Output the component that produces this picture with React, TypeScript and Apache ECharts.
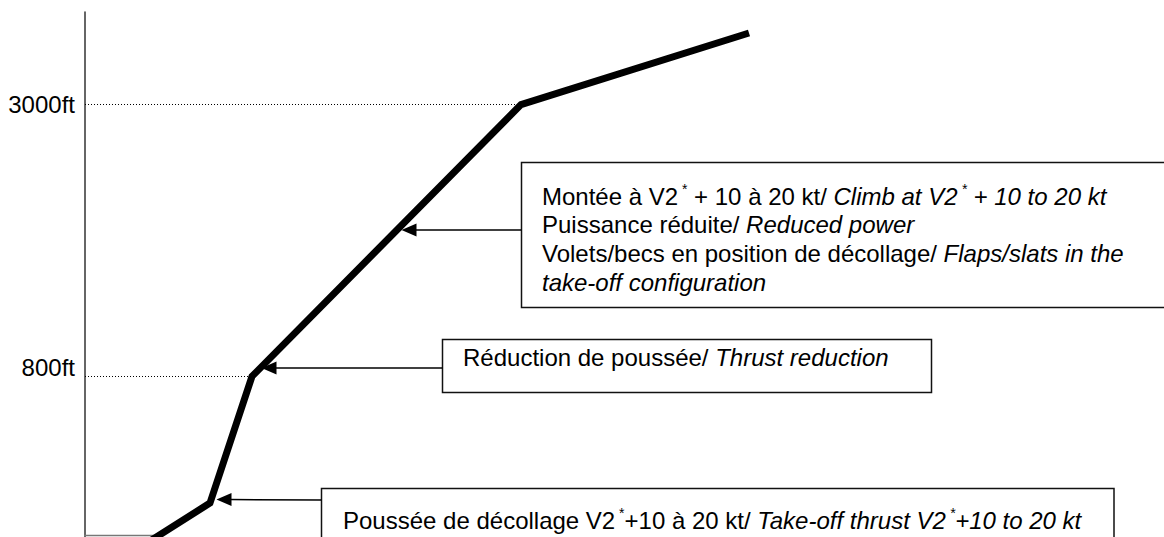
import React, { useEffect, useRef } from "react";
import * as echarts from "echarts";

// Flight path (schematic distance units, altitude in ft)
const pathX = [46, 125, 167, 436, 664];
const pathY = [-630, -225, 800, 3000, 3580];

// Altitude ticks shown on the vertical axis
const tickValues = [800, 3000];
const tickLabels = ["800ft", "3000ft"];

// Reference (dotted) lines: altitude and the distance where they meet the path
const refAlt = [3000, 800];
const refX = [431, 164];

const FONT = "'Liberation Sans', Arial, Helvetica, sans-serif";
const FS = 24;

const annotationTop =
  "{n|Montée à V2}{s| *}{n| + 10 à 20 kt/ }{i|Climb at V2}{si| *}{i| + 10 to 20 kt}\n" +
  "{n|Puissance réduite/ }{i|Reduced power}\n" +
  "{n|Volets/becs en position de décollage/ }{i|Flaps/slats in the}\n" +
  "{i|take-off configuration}";
const annotationMid = "{n|Réduction de poussée/ }{i|Thrust reduction}";
const annotationLow =
  "{n|Poussée de décollage V2}{s| *}{n|+10 à 20 kt/ }{i|Take-off thrust V2}{si| *}{i|+10 to 20 kt}";

const rich = {
  n: { fontSize: FS, fontFamily: FONT, fill: "#000" },
  i: { fontSize: FS, fontFamily: FONT, fontStyle: "italic", fill: "#000" },
  s: { fontSize: 14, fontFamily: FONT, fill: "#000", verticalAlign: "top", lineHeight: 8 },
  si: {
    fontSize: 14,
    fontFamily: FONT,
    fontStyle: "italic",
    fill: "#000",
    verticalAlign: "top",
    lineHeight: 8,
  },
};

function arrow(x1: number, y1: number, tipX: number, tipY: number) {
  const headLen = 15;
  const half = 6.5;
  return [
    {
      type: "line",
      shape: { x1, y1, x2: tipX + headLen - 2, y2: tipY },
      style: { stroke: "#000", lineWidth: 1.5 },
      z: 10,
    },
    {
      type: "polygon",
      shape: {
        points: [
          [tipX, tipY],
          [tipX + headLen, tipY - half],
          [tipX + headLen, tipY + half],
        ],
      },
      style: { fill: "#000" },
      z: 10,
    },
  ];
}

export default function App() {
  const ref = useRef<HTMLDivElement>(null);
  useEffect(() => {
    document.body.style.margin = "0";
    const chart = echarts.init(ref.current!, undefined, { renderer: "svg" });
    const data = pathX.map((x, i) => [x, pathY[i]]);
    chart.setOption({
      animation: false,
      backgroundColor: "#fff",
      grid: { left: 85, right: 0, top: 12, bottom: 0 },
      xAxis: {
        type: "value",
        min: 0,
        max: 1079,
        show: false,
      },
      yAxis: {
        type: "value",
        min: -500,
        max: 3750,
        axisLine: { show: true, lineStyle: { color: "#333", width: 1.5 } },
        axisTick: { show: false },
        splitLine: { show: false },
        axisLabel: {
          customValues: tickValues,
          margin: 10,
          color: "#000",
          fontSize: FS,
          fontFamily: FONT,
          formatter: (v: number) => {
            const idx = tickValues.indexOf(v);
            const lbl = idx >= 0 ? tickLabels[idx] : "";
            return v === 800 ? "{up|" + lbl + "}" : lbl;
          },
          rich: {
            up: { fontSize: FS, fontFamily: FONT, color: "#000", padding: [0, 0, 18, 0] },
          },
        },
      },
      series: [
        {
          type: "line",
          data,
          symbol: "none",
          clip: true,
          lineStyle: { color: "#000", width: 7, join: "miter", cap: "butt" },
          markLine: {
            silent: true,
            symbol: "none",
            label: { show: false },
            lineStyle: { color: "#000", width: 1.2, type: [1, 2] },
            data: refAlt.map((a, i) => [
              { coord: [0, a] },
              { coord: [refX[i], a] },
            ]),
          },
          z: 5,
        },
      ],
      graphic: [
        {
          type: "line",
          shape: { x1: 84, y1: 535.5, x2: 160, y2: 535.5 },
          style: { stroke: "#777", lineWidth: 1.5 },
          z: 1,
        },
        {
          type: "rect",
          shape: { x: 521.5, y: 162.5, width: 700, height: 145 },
          style: { stroke: "#111", lineWidth: 1.5, fill: "#fff" },
          z: 8,
        },
        {
          type: "rect",
          shape: { x: 442.5, y: 339.5, width: 489, height: 53 },
          style: { stroke: "#111", lineWidth: 1.5, fill: "#fff" },
          z: 8,
        },
        {
          type: "rect",
          shape: { x: 321.5, y: 488.5, width: 792.5, height: 100 },
          style: { stroke: "#111", lineWidth: 1.5, fill: "#fff" },
          z: 8,
        },
        {
          type: "text",
          x: 542,
          y: 182,
          z: 9,
          style: {
            text: annotationTop,
            rich,
            lineHeight: 28.6,
            verticalAlign: "top",
            align: "left",
            font: FS + "px " + FONT,
            fill: "#000",
          },
        },
        {
          type: "text",
          x: 463,
          y: 343,
          z: 9,
          style: {
            text: annotationMid,
            rich,
            lineHeight: 28.6,
            verticalAlign: "top",
            align: "left",
            font: FS + "px " + FONT,
            fill: "#000",
          },
        },
        {
          type: "text",
          x: 343,
          y: 506,
          z: 9,
          style: {
            text: annotationLow,
            rich,
            lineHeight: 28.6,
            verticalAlign: "top",
            align: "left",
            font: FS + "px " + FONT,
            fill: "#000",
          },
        },
        ...arrow(521.5, 230, 401.5, 230),
        ...arrow(442.5, 368, 261.5, 368),
        ...arrow(321.5, 500, 216.5, 499.5),
      ],
    });
    return () => chart.dispose();
  }, []);
  return (
    <div
      ref={ref}
      style={{ position: "absolute", left: 0, top: 0, width: 1164, height: 537 }}
    />
  );
}
